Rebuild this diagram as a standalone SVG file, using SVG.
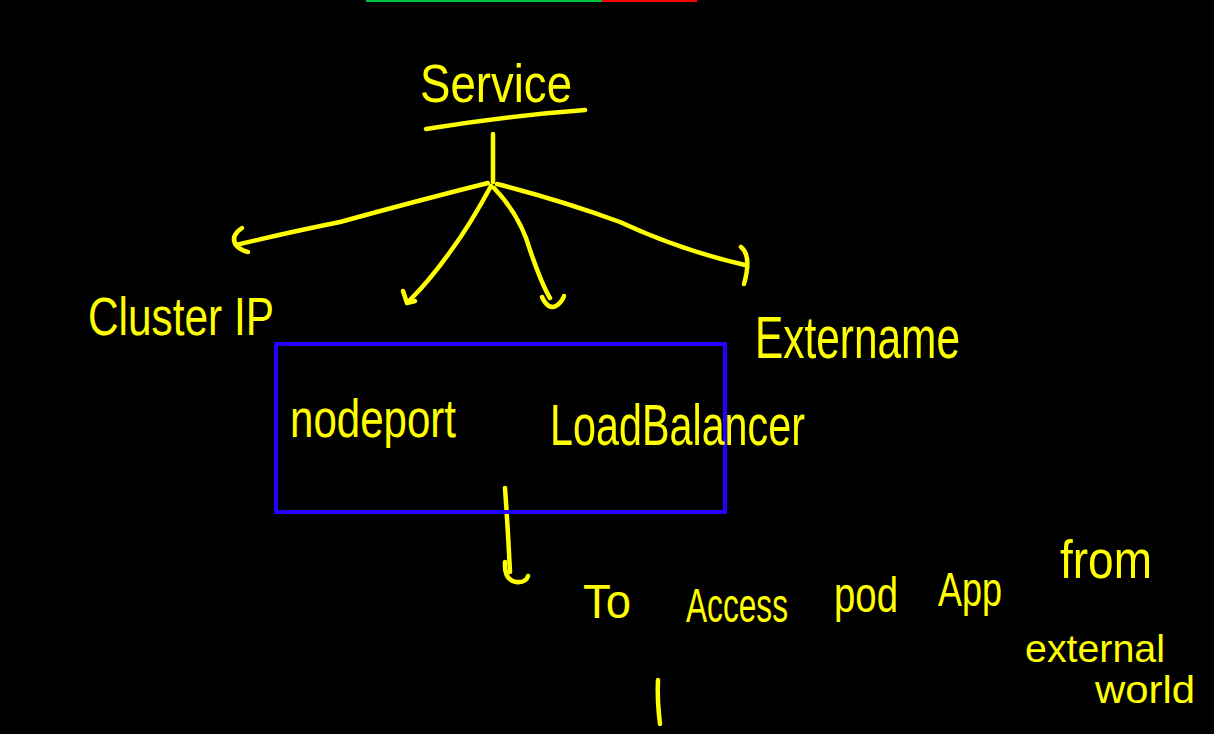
<svg xmlns="http://www.w3.org/2000/svg" width="1214" height="734" viewBox="0 0 1214 734">
<defs>
<style>
.ink{fill:none;stroke:#ffff00;stroke-width:4.5;stroke-linecap:round;stroke-linejoin:round}
.t{fill:#ffff00;font-family:"Liberation Sans Narrow","Liberation Sans",Arial,sans-serif}
</style>
</defs>
<rect width="1214" height="734" fill="#000"/>
<line x1="366" y1="0.5" x2="602" y2="0.5" stroke="#00c040" stroke-width="3"/>
<line x1="602" y1="0.5" x2="697" y2="0.5" stroke="#ff0000" stroke-width="3"/>
<g id="service">
<text class="t" x="420" y="102" font-size="54" textLength="152" lengthAdjust="spacingAndGlyphs">Service</text>
<path class="ink" d="M426 129 Q505 116 585 110"/>
</g>
<g id="connectors">
<path class="ink" d="M493 134 L493 182"/>
<path class="ink" d="M488 183 Q420 200 340 222 Q290 232 236 245"/>
<path class="ink" d="M242 228 Q230 236 236 245 Q240 250 248 252"/>
<path class="ink" d="M491 186 Q470 225 450 252 Q430 280 410 300"/>
<path class="ink" d="M403 291 L407 303 L415 301"/>
<path class="ink" d="M494 188 Q520 215 530 250 Q542 285 550 298"/>
<path class="ink" d="M542 297 Q548 310 556 306 Q562 302 564 296"/>
<path class="ink" d="M497 184 Q560 200 620 222 Q680 250 745 265"/>
<path class="ink" d="M741 247 Q752 256 744 284"/>
<path class="ink" d="M505 488 Q508 530 510 572"/>
<path class="ink" d="M505 562 Q504 580 516 582 Q526 583 528 576"/>
<path class="ink" d="M658 680 Q657 700 660 724"/>
</g>
<g id="cluster-ip">
<text class="t" x="88" y="335" font-size="54" textLength="186" lengthAdjust="spacingAndGlyphs">Cluster IP</text>
</g>
<g id="box">
<rect x="276" y="344" width="449" height="168" fill="none" stroke="#2200ff" stroke-width="4"/>
</g>
<g id="nodeport">
<text class="t" x="290" y="437" font-size="54" textLength="166" lengthAdjust="spacingAndGlyphs">nodeport</text>
</g>
<g id="loadbalancer">
<text class="t" x="550" y="445" font-size="58" textLength="255" lengthAdjust="spacingAndGlyphs">LoadBalancer</text>
</g>
<g id="extername">
<text class="t" x="755" y="358" font-size="60" textLength="205" lengthAdjust="spacingAndGlyphs">Extername</text>
</g>
<g id="note">
<text class="t" x="583" y="618" font-size="48" textLength="48" lengthAdjust="spacingAndGlyphs">To</text>
<text class="t" x="686" y="622" font-size="48" textLength="102" lengthAdjust="spacingAndGlyphs">Access</text>
<text class="t" x="834" y="612" font-size="50" textLength="64" lengthAdjust="spacingAndGlyphs">pod</text>
<text class="t" x="938" y="606" font-size="48" textLength="64" lengthAdjust="spacingAndGlyphs">App</text>
<text class="t" x="1060" y="578" font-size="54" textLength="92" lengthAdjust="spacingAndGlyphs">from</text>
<text class="t" x="1025" y="662" font-size="38" textLength="140" lengthAdjust="spacingAndGlyphs">external</text>
<text class="t" x="1095" y="703" font-size="38" textLength="100" lengthAdjust="spacingAndGlyphs">world</text>
</g>
</svg>
